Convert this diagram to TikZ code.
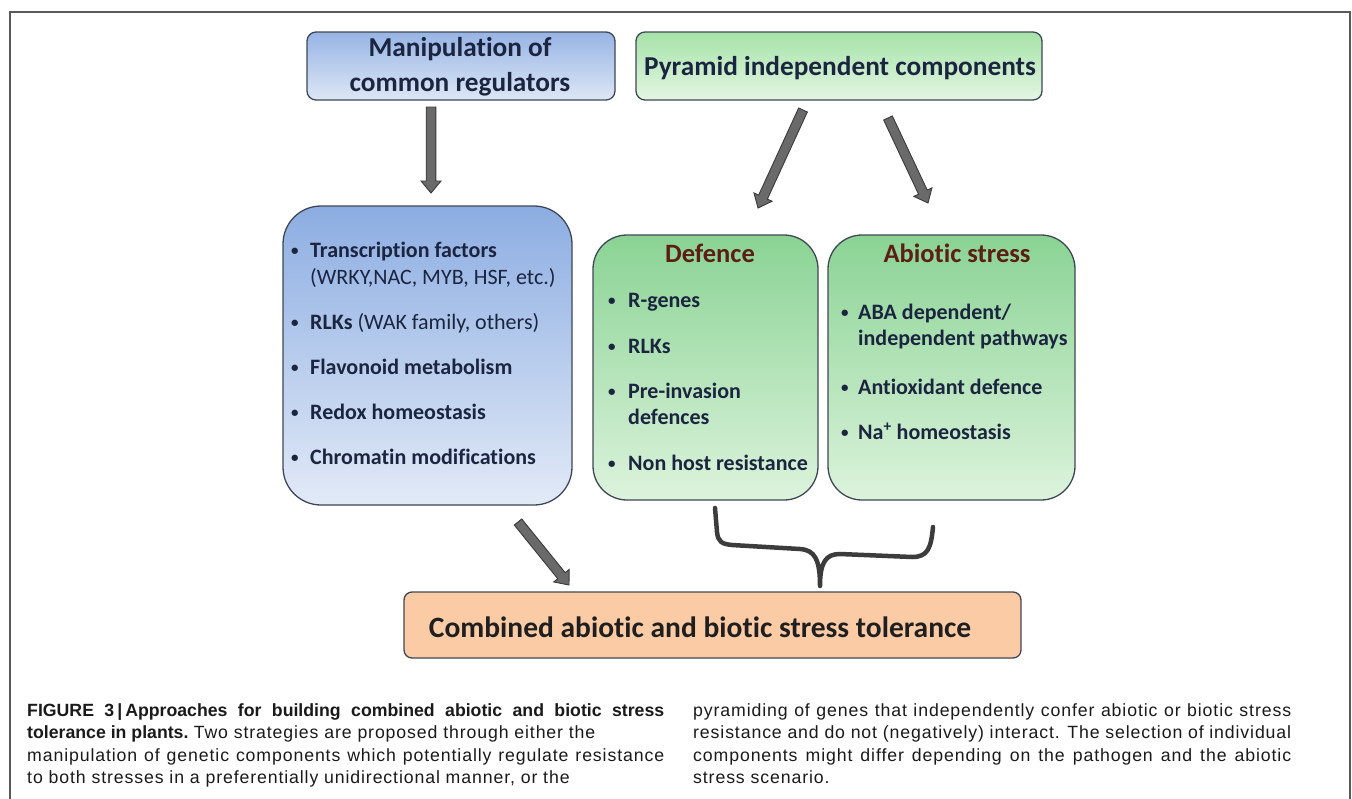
\documentclass[tikz,border=0pt]{standalone}
\usepackage{fontspec}
\setmainfont{Carlito}[Ligatures={NoCommon}]
\newfontfamily\capfont[LetterSpace=5]{Liberation Sans}
\newfontfamily\capbf{Liberation Sans Bold}
\usetikzlibrary{calc}
\definecolor{txt}{HTML}{1C2540}
\definecolor{ttl}{HTML}{5C1E14}
\definecolor{bord}{HTML}{3F4756}
\definecolor{blueT}{HTML}{97B4E5}
\definecolor{blueB}{HTML}{DDE7F5}
\definecolor{blueCT}{HTML}{8CADE2}
\definecolor{blueCB}{HTML}{E2EAF7}
\definecolor{grnT}{HTML}{A6E2A8}
\definecolor{grnB}{HTML}{E3F6E3}
\definecolor{grnDT}{HTML}{8AD394}
\definecolor{grnDB}{HTML}{DCF3DC}
\definecolor{peach}{HTML}{FBCBA5}
\definecolor{arrowfill}{HTML}{6A6A6A}
\definecolor{arrowdark}{HTML}{3A3A3A}
\definecolor{bracec}{HTML}{3C3C3C}
\definecolor{framec}{HTML}{5A5A5A}
\definecolor{captxt}{HTML}{1A1A1A}
\newcommand\bul[1][19pt]{\makebox[#1][l]{\fontsize{15}{15}\selectfont\raisebox{1.5pt}{•}}}
\newcommand\blockarrow[2]{%
  \path[blockarrow] let \p1=(#1), \p2=(#2),
     \n1={atan2(\y2-\y1,\x2-\x1)}, \n2={veclen(\x2-\x1,\y2-\y1)} in
     [shift={(\p1)}, rotate=\n1]
     (0pt,-4.8pt) -- ({\n2-12pt},-4.8pt) -- ({\n2-12pt},-10pt) -- ({\n2*1pt},0pt)
     -- ({\n2-12pt},10pt) -- ({\n2-12pt},4.8pt) -- (0pt,4.8pt) -- cycle;}
\begin{document}
\begin{tikzpicture}[x=1pt,y=-1pt,
  box/.style={draw=bord, line width=1.3pt, inner sep=0pt, text=txt},
  bluebox/.style={box, top color=blueT, bottom color=blueB},
  blueCbox/.style={box, top color=blueCT, bottom color=blueCB},
  greenbox/.style={box, top color=grnT, bottom color=grnB},
  greenDbox/.style={box, top color=grnDT, bottom color=grnDB},
  headtext/.style={font=\fontsize{27.3}{35}\selectfont\bfseries, align=center, text=txt},
  titletext/.style={font=\fontsize{26.5}{30}\selectfont\bfseries, text=ttl, inner sep=0pt},
  itemtext/.style={anchor=mid west, inner sep=0pt, text=txt, font=\fontsize{22}{26}\selectfont\bfseries},
  captext/.style={anchor=base west, inner sep=0pt, text=captxt, font=\fontsize{17.7}{22}\selectfont},
  blockarrow/.style={draw=arrowdark, fill=arrowfill, line width=0.9pt, line join=miter},
  bracestyle/.style={draw=bracec, line width=4.5pt, line cap=round, line join=round}
]
\useasboundingbox (0,0) rectangle (1352,798);
\fill[white] (0,0) rectangle (1352,798);
% frame
\draw[framec, line width=1.6pt] (10,800) -- (10,12) -- (1350,12) -- (1350,800);

% boxes
\node[bluebox, rounded corners=9pt, minimum width=308pt, minimum height=68pt] (A) at (461,66) {};
\node[headtext] (Atext) at (460,67) {Manipulation of\\common regulators};
\node[greenbox, rounded corners=9pt, minimum width=406pt, minimum height=68pt] (B) at (839,66) {};
\node[headtext] (Btext) at (840,68) {Pyramid independent components};

\node[blueCbox, rounded corners=38pt, minimum width=289pt, minimum height=299pt] (C) at (427.5,355.5) {};
\node[greenDbox, rounded corners=34pt, minimum width=225pt, minimum height=265pt] (D) at (705.5,367.5) {};
\node[greenDbox, rounded corners=34pt, minimum width=247pt, minimum height=265pt] (E) at (951.5,367.5) {};
\node[box, fill=peach, rounded corners=8pt, minimum width=617pt, minimum height=66pt] (F) at (712.5,625) {};
\node[font=\fontsize{29.5}{34}\selectfont\bfseries, text=black!88] (Ftext) at (700,627) {Combined abiotic and biotic stress tolerance};

% left box items
\node[itemtext] (c1) at (291,255) {\bul Transcription factors};
\node[itemtext] (c1b) at (310,282) {\mdseries (WRKY,NAC, MYB, HSF, etc.)};
\node[itemtext] (c2) at (291,327) {\bul RLKs \mdseries(WAK family, others)};
\node[itemtext] (c3) at (291,372) {\bul Flavonoid metabolism};
\node[itemtext] (c4) at (291,417) {\bul Redox homeostasis};
\node[itemtext] (c5) at (291,462) {\bul Chromatin modifications};

% defence
\node[titletext] (Dt) at (710,253) {Defence};
\node[itemtext] (d1) at (608,305) {\bul[20pt]R-genes};
\node[itemtext] (d2) at (608,351) {\bul[20pt]RLKs};
\node[itemtext] (d3) at (608,396) {\bul[20pt]Pre-invasion};
\node[itemtext] (d3b) at (628,422) {defences};
\node[itemtext] (d4) at (608,468) {\bul[20pt]Non host resistance};

% abiotic
\node[titletext] (Et) at (957,253) {Abiotic stress};
\node[itemtext] (e1) at (841,317) {\bul[17pt]ABA dependent/};
\node[itemtext] (e1b) at (858,343) {independent pathways};
\node[itemtext] (e2) at (841,392) {\bul[17pt]Antioxidant defence};
\node[itemtext] (e3) at (841,437) {\bul[17pt]Na\textsuperscript{+} homeostasis};

% arrows
\coordinate (a1s) at (431,107);
\coordinate (a1e) at (431,193);
\coordinate (b1s) at (803,110);
\coordinate (b1e) at (758,208);
\coordinate (b2s) at (888,118);
\coordinate (b2e) at (928,203);
\coordinate (c1s) at (518,522);
\coordinate (c1e) at (569,585);
\blockarrow{a1s}{a1e}
\blockarrow{b1s}{b1e}
\blockarrow{b2s}{b2e}
\blockarrow{c1s}{c1e}

% brace
\draw[bracestyle] (715,508) -- (717,532) .. controls (718,542) and (722,544) .. (732,545)
  -- (800,549) .. controls (815,550) and (820,560) .. (820,586)
  .. controls (820,562) and (826,554) .. (840,554) -- (912,557)
  .. controls (928,557) and (931,548) .. (933,527);

% caption
\node[captext] (L1) at (27,716) {\capbf\makebox[637pt][s]{FIGURE 3\kern3pt|\kern3pt Approaches for building combined abiotic and biotic stress}};
\node[captext] (L2) at (27,738.5) {{\capbf tolerance in plants.} \capfont Two strategies are proposed through either the};
\node[captext] (L3) at (27,761) {\capfont\makebox[637pt][s]{manipulation of genetic components which potentially regulate resistance}};
\node[captext] (L4) at (27,783.5) {\capfont to both stresses in a preferentially unidirectional manner, or the};
\node[captext] (R1) at (693,716) {\capfont\makebox[598pt][s]{pyramiding of genes that independently confer abiotic or biotic stress}};
\node[captext] (R2) at (693,738.5) {\capfont\makebox[598pt][s]{resistance and do not (negatively) interact. The selection of individual}};
\node[captext] (R3) at (693,761) {\capfont\makebox[598pt][s]{components might differ depending on the pathogen and the abiotic}};
\node[captext] (R4) at (693,783.5) {\capfont stress scenario.};
\end{tikzpicture}
\end{document}
